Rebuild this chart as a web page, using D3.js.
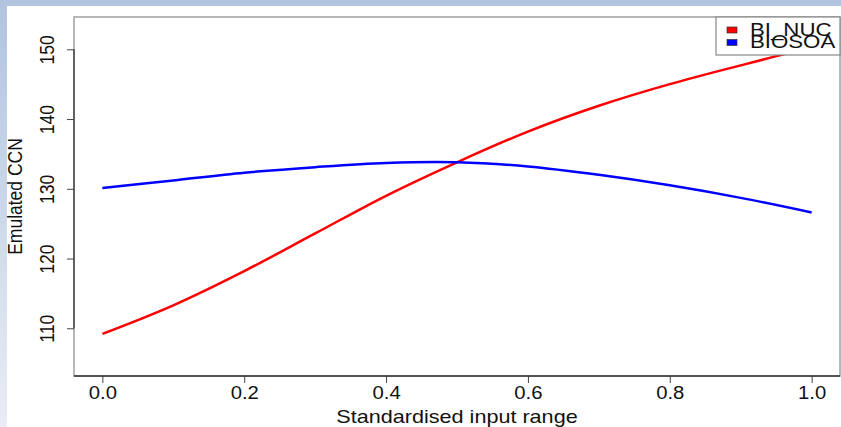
<!DOCTYPE html>
<html>
<head>
<meta charset="utf-8">
<script src="https://cdn.jsdelivr.net/npm/d3@7"></script>
<style>
  body { margin: 0; background: #fff; }
  text { font-family: "Liberation Sans", Arial, Helvetica, sans-serif; fill: #111; }
</style>
</head>
<body>
<div id="chart"></div>
<script>
// data
const xVals = [0, 0.1, 0.2, 0.3, 0.4, 0.5, 0.6, 0.7, 0.8, 0.9, 1.0];
const biNuc = [109.2, 113.3, 118.2, 123.6, 129.0, 133.8, 138.2, 141.9, 145.0, 147.7, 150.3];
const biosoa = [130.1, 131.2, 132.3, 133.1, 133.7, 133.8, 133.2, 132.0, 130.5, 128.7, 126.6];
const xTicks = [0, 0.2, 0.4, 0.6, 0.8, 1.0];
const yTicks = [110, 120, 130, 140, 150];
const seriesNames = ["BI_NUC", "BIOSOA"];
const seriesColors = ["#ff0000", "#0000ff"];

const W = 841, H = 427;
const box = { left: 74, right: 840, top: 17, bottom: 376 };

const svg = d3.select("#chart").append("svg")
    .attr("width", W)
    .attr("height", H);

// frame strips (top + left)
const defs = svg.append("defs");
const grad = defs.append("linearGradient").attr("id", "leftgrad")
    .attr("x1", 0).attr("y1", 0).attr("x2", 0).attr("y2", 1);
grad.append("stop").attr("offset", "0%").attr("stop-color", "#b0c4de");
grad.append("stop").attr("offset", "100%").attr("stop-color", "#e9edf5");
svg.append("rect").attr("x", 0).attr("y", 0).attr("width", 7).attr("height", H).attr("fill", "url(#leftgrad)");
svg.append("rect").attr("x", 0).attr("y", 0).attr("width", W).attr("height", 6).attr("fill", "#b0c4de");

// scales
const x = d3.scaleLinear().domain([-0.04, 1.04]).range([box.left, box.right]);
const y = d3.scaleLinear().domain([103.16, 154.63]).range([box.bottom, box.top]);

// plot box
svg.append("rect")
    .attr("x", box.left).attr("y", box.top)
    .attr("width", box.right - box.left).attr("height", box.bottom - box.top)
    .attr("fill", "none").attr("stroke", "#a0a0a0").attr("stroke-width", 1.5);

// x axis
const xaxis = d3.axisBottom(x).tickValues(xTicks).tickFormat(d3.format(".1f")).tickSize(7);
const gx = svg.append("g").attr("transform", `translate(0,${box.bottom})`).call(xaxis);
gx.select(".domain").remove();
gx.selectAll("line").attr("stroke", "#444");
gx.selectAll("text")
    .attr("y", 0).attr("dy", 0)
    .attr("transform", "translate(0,23) scale(1.16,1)")
    .style("font-size", "17.5px")
    .attr("fill", "#111");
svg.append("line")
    .attr("x1", box.left).attr("x2", box.right)
    .attr("y1", box.bottom).attr("y2", box.bottom)
    .attr("stroke", "#333").attr("stroke-width", 1.5);

// y axis
const yaxis = d3.axisLeft(y).tickValues(yTicks).tickSize(7);
const gy = svg.append("g").attr("transform", `translate(${box.left},0)`).call(yaxis);
gy.select(".domain").remove();
gy.selectAll("line").attr("stroke", "#444");
gy.selectAll("text")
    .attr("x", 0).attr("y", 0).attr("dy", 0)
    .attr("text-anchor", "middle")
    .attr("transform", "translate(-20,0) scale(1.16,1) rotate(-90)")
    .style("font-size", "17.5px")
    .attr("fill", "#111");
svg.append("line")
    .attr("x1", box.left).attr("x2", box.left)
    .attr("y1", y(yTicks[0])).attr("y2", y(yTicks[yTicks.length - 1]))
    .attr("stroke", "#444").attr("stroke-width", 1.5);

// axis titles
svg.append("text")
    .attr("text-anchor", "middle")
    .attr("transform", `translate(457,423) scale(1.2,1)`)
    .style("font-size", "18px")
    .text("Standardised input range");
svg.append("text")
    .attr("text-anchor", "middle")
    .attr("transform", `translate(22,${(box.top + box.bottom) / 2}) scale(1.16,1) rotate(-90)`)
    .style("font-size", "17.5px")
    .text("Emulated CCN");

// lines
const line = d3.line()
    .x((d) => x(d[0]))
    .y((d) => y(d[1]))
    .curve(d3.curveCatmullRom.alpha(0.5));

[biNuc, biosoa].forEach((vals, i) => {
    svg.append("path")
        .datum(xVals.map((v, j) => [v, vals[j]]))
        .attr("d", line)
        .attr("fill", "none")
        .attr("stroke", seriesColors[i])
        .attr("stroke-width", 2.5);
});

// legend (the two labels overlap in the original too)
const lg = svg.append("g");
lg.append("rect")
    .attr("x", 716).attr("y", box.top).attr("width", box.right - 716).attr("height", 38)
    .attr("fill", "#fff").attr("stroke", "#888").attr("stroke-width", 1.2);
seriesNames.forEach((name, i) => {
    lg.append("rect")
        .attr("x", 727).attr("y", 27 + i * 12.5).attr("width", 10).attr("height", 6)
        .attr("fill", seriesColors[i]).attr("stroke", "#333").attr("stroke-width", 0.7);
    lg.append("text")
        .attr("transform", `translate(750,${36 + i * 11.7}) scale(1.27,1)`)
        .style("font-size", "17.5px")
        .text(name);
});
</script>
</body>
</html>
